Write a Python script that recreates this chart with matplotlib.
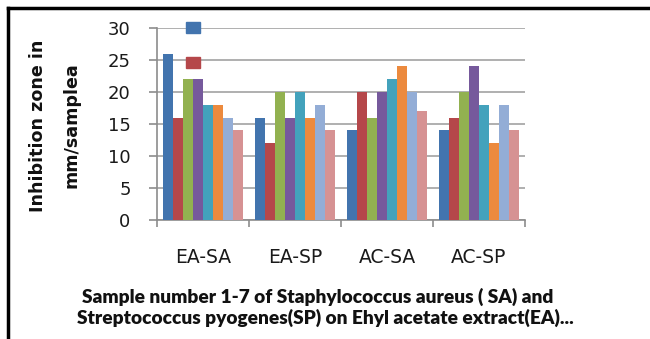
import matplotlib
matplotlib.use("Agg")
import matplotlib.pyplot as plt
import numpy as np
from matplotlib.lines import Line2D
from matplotlib.patches import Patch

# Groups (extract / organism) and inhibition zones for samples 1-8
groups = ["EA-SA", "EA-SP", "AC-SA", "AC-SP"]
sample_1 = [26, 16, 14, 14]
sample_2 = [16, 12, 20, 16]
sample_3 = [22, 20, 16, 20]
sample_4 = [22, 16, 20, 24]
sample_5 = [18, 20, 22, 18]
sample_6 = [18, 16, 24, 12]
sample_7 = [16, 18, 20, 18]
sample_8 = [14, 14, 17, 14]
series = [sample_1, sample_2, sample_3, sample_4,
          sample_5, sample_6, sample_7, sample_8]
y_ticks = [0, 5, 10, 15, 20, 25, 30]

colors = ["#4274AE", "#B5474A", "#92B150", "#76599C",
          "#43A2BC", "#EC8A3E", "#93ADD6", "#D69293"]

W, H = 650, 339
fig = plt.figure(figsize=(W / 100, H / 100), dpi=100)
fig.patch.set_facecolor("white")

ax_left, ax_right, ax_top, ax_bot = 157, 525, 28, 220
ax = fig.add_axes([ax_left / W, 1 - ax_bot / H,
                   (ax_right - ax_left) / W, (ax_bot - ax_top) / H])

n = len(series)
bar_w = 0.108
start = (1 - n * bar_w) / 2
x0 = np.arange(len(groups))
for i, vals in enumerate(series):
    ax.bar(x0 + start + (i + 0.5) * bar_w, vals, width=bar_w,
           color=colors[i], linewidth=0, zorder=3)

ax.set_xlim(0, len(groups))
ax.set_ylim(0, 30)
ax.set_yticks(y_ticks)
ax.yaxis.grid(True, color="#9a9a9a", linewidth=1.1, zorder=0)
ax.set_axisbelow(True)

grey = "#8c8c8c"
for s in ["top", "right"]:
    ax.spines[s].set_visible(False)
for s in ["left", "bottom"]:
    ax.spines[s].set_color(grey)
    ax.spines[s].set_linewidth(1.2)

ax.set_xticks(np.arange(len(groups) + 1))
ax.set_xticklabels([])
ax.set_xticks(x0 + 0.5, minor=True)
ax.set_xticklabels(groups, minor=True)
ax.tick_params(axis="x", which="major", length=5, color=grey, width=1.2)
ax.tick_params(axis="x", which="minor", length=0, pad=20,
               labelsize=13.5, labelcolor="#1a1a1a")
ax.tick_params(axis="y", length=6, color=grey, width=1.2, pad=13,
               labelsize=13, labelcolor="#1a1a1a")

# Legend markers (labels fall outside the chart area)
handles = [Patch(color=colors[0]), Patch(color=colors[1])]
leg = ax.legend(handles, ["", ""], loc="upper left",
                bbox_to_anchor=((186 - ax_left) / (ax_right - ax_left) - 0.03,
                                1 + (ax_top - 10) / (ax_bot - ax_top)),
                frameon=False, fontsize=11, handlelength=0.95,
                handleheight=0.75, labelspacing=1.3, borderpad=0.2,
                handletextpad=0)
leg.set_zorder(5)

# Axis titles
ylab_font = dict(family="DejaVu Sans", weight="bold", size=12.6,
                 rotation=90, ha="center", va="center", color="#111111")
fig.text(38 / W, 1 - 126 / H, "Inhibition zone in", **ylab_font)
fig.text(72 / W, 1 - 125 / H, "mm/samplea", **ylab_font)

xlab_font = dict(family="Lato", weight="heavy", size=13.8,
                 ha="center", va="center", color="#111111")
fig.text(318 / W, 1 - 297 / H,
         "Sample number 1-7 of Staphylococcus aureus ( SA) and", **xlab_font)
fig.text(325 / W, 1 - 318 / H,
         "Streptococcus pyogenes(SP) on Ehyl acetate extract(EA)...",
         **xlab_font)

# Frame lines along the top and left edges
fig.add_artist(Line2D([8 / W, 1], [1 - 8 / H, 1 - 8 / H],
                      transform=fig.transFigure, color="black", linewidth=2.5))
fig.add_artist(Line2D([8 / W, 8 / W], [0, 1 - 8 / H],
                      transform=fig.transFigure, color="black", linewidth=2.5))

fig.savefig("out.png", dpi=100, facecolor="white")
